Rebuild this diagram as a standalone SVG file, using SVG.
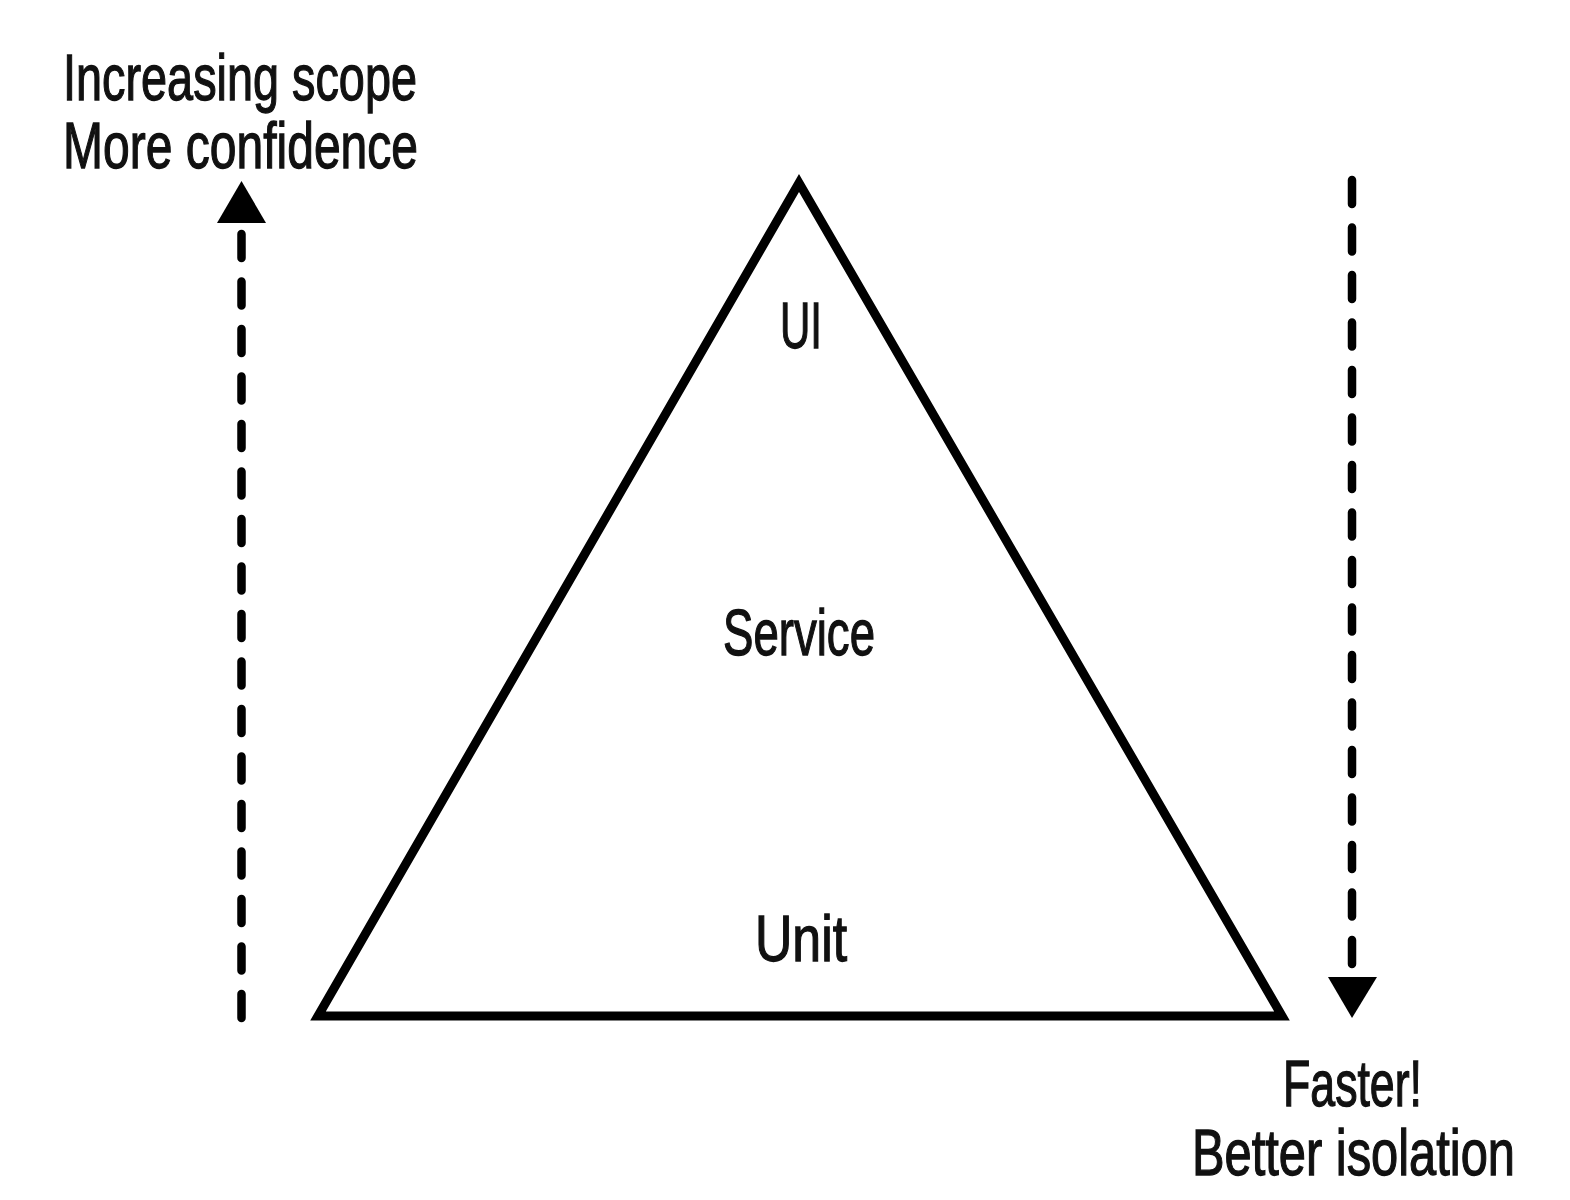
<svg xmlns="http://www.w3.org/2000/svg" width="1570" height="1200" viewBox="0 0 1570 1200">
  <style>
    .lbl { font-family: "Liberation Sans Narrow", "Liberation Sans", "DejaVu Sans Condensed", sans-serif; font-size: 64px; fill: #111; stroke: #111; stroke-width: 1.3; }
    .dash { fill: none; stroke: #000; stroke-width: 8.5; stroke-linecap: round; stroke-dasharray: 24 23.5; }
    .head { fill: #000; stroke: none; }
    .tri { fill: #fff; stroke: #000; stroke-width: 9; stroke-linejoin: miter; }
  </style>
  <rect width="1570" height="1200" fill="#fff"/>
  <g id="pyramid">
    <polygon class="tri" points="799,183 318,1016 1282,1016"/>
    <text class="lbl" x="780" y="348" textLength="42" lengthAdjust="spacingAndGlyphs">UI</text>
    <text class="lbl" x="723" y="655" textLength="152" lengthAdjust="spacingAndGlyphs">Service</text>
    <text class="lbl" x="755" y="961" textLength="92" lengthAdjust="spacingAndGlyphs">Unit</text>
  </g>
  <g id="connectors">
    <path class="dash" d="M241.5,1018 L241.5,234"/>
    <polygon class="head" points="241.5,181 217,223 266,223"/>
    <path class="dash" d="M1352,180 L1352,964"/>
    <polygon class="head" points="1328,977 1377,977 1352,1018"/>
  </g>
  <g id="label-top-left">
    <text class="lbl" x="63" y="100" textLength="354" lengthAdjust="spacingAndGlyphs">Increasing scope</text>
    <text class="lbl" x="63" y="168" textLength="355" lengthAdjust="spacingAndGlyphs">More confidence</text>
  </g>
  <g id="label-bottom-right">
    <text class="lbl" x="1283" y="1106" textLength="139" lengthAdjust="spacingAndGlyphs">Faster!</text>
    <text class="lbl" x="1192" y="1175" textLength="323" lengthAdjust="spacingAndGlyphs">Better isolation</text>
  </g>
</svg>
